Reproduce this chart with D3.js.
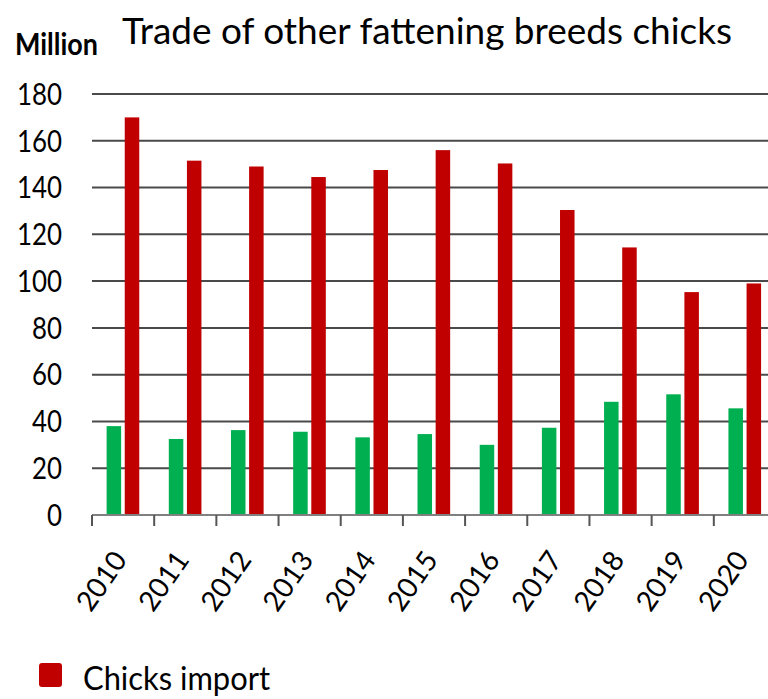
<!DOCTYPE html>
<html>
<head>
<meta charset="utf-8">
<script src="https://cdn.jsdelivr.net/npm/d3@7/dist/d3.min.js"></script>
<style>
  html, body { margin: 0; padding: 0; background: #fff; }
  svg { display: block; }
  text { font-family: Lato, "Open Sans", sans-serif; fill: #000; }
</style>
</head>
<body>
<svg id="chart" width="768" height="699"></svg>
<script>
const years = ["2010","2011","2012","2013","2014","2015","2016","2017","2018","2019","2020"];
const chicksExport = [38, 32.5, 36.3, 35.6, 33.2, 34.6, 30, 37.3, 48.4, 51.6, 45.6];
const chicksImport = [170, 151.5, 149, 144.5, 147.5, 156, 150.3, 130.4, 114.4, 95.3, 99];
const seriesNames = ["Chicks export", "Chicks import"];
const seriesColors = ["#00B050", "#C00000"];
const yTicks = [0, 20, 40, 60, 80, 100, 120, 140, 160, 180];
const titleText = "Trade of other fattening breeds chicks";
const unitText = "Million";

const svg = d3.select("#chart");
const mLeft = 92, mRight = 776, mTop = 94, mBottom = 515;

const x = d3.scaleBand().domain(years).range([mLeft, mRight]).paddingInner(0).paddingOuter(0);
const bw = x.bandwidth();
const x1 = d3.scaleBand().domain(seriesNames)
  .range([0.235 * bw, 0.76 * bw]).paddingInner(0.2).paddingOuter(0);
const y = d3.scaleLinear().domain([0, 180]).range([mBottom, mTop]);

// gridlines
svg.append("g")
  .selectAll("line")
  .data(yTicks.filter(d => d > 0))
  .join("line")
  .attr("x1", mLeft).attr("x2", 768)
  .attr("y1", d => y(d)).attr("y2", d => y(d))
  .attr("stroke", "#4a4a4a").attr("stroke-width", 2);

// y labels
svg.append("g")
  .selectAll("text")
  .data(yTicks)
  .join("text")
  .attr("x", 62).attr("y", d => y(d))
  .attr("dy", "0.36em")
  .attr("text-anchor", "end")
  .attr("textLength", d => String(d).length * 15)
  .attr("lengthAdjust", "spacingAndGlyphs")
  .style("font-size", "30px")
  .text(d => d);

// bars
const rows = years.map((yr, i) => ({ yr, vals: [chicksExport[i], chicksImport[i]] }));
const groups = svg.append("g").selectAll("g")
  .data(rows).join("g")
  .attr("transform", d => `translate(${x(d.yr)},0)`);
groups.selectAll("rect")
  .data(d => d.vals.map((v, j) => ({ s: seriesNames[j], v, c: seriesColors[j] })))
  .join("rect")
  .attr("x", d => x1(d.s))
  .attr("width", x1.bandwidth())
  .attr("y", d => y(d.v))
  .attr("height", d => y(0) - y(d.v))
  .attr("fill", d => d.c);

// x axis line
svg.append("line")
  .attr("x1", mLeft).attr("x2", mRight)
  .attr("y1", mBottom).attr("y2", mBottom)
  .attr("stroke", "#808080").attr("stroke-width", 2);
// tick marks at band boundaries
const boundaries = years.map(yr => x(yr));
svg.append("g").selectAll("line")
  .data(boundaries).join("line")
  .attr("x1", d => d).attr("x2", d => d)
  .attr("y1", mBottom).attr("y2", mBottom + 11)
  .attr("stroke", "#555").attr("stroke-width", 2);

// x labels
svg.append("g").selectAll("text")
  .data(years).join("text")
  .attr("transform", d => `translate(${x(d) + bw / 2 + 5},${mBottom + 45}) rotate(-55)`)
  .attr("text-anchor", "end")
  .style("font-size", "28px")
  .text(d => d);

// title
svg.append("text")
  .attr("x", 122).attr("y", 44)
  .attr("textLength", 610).attr("lengthAdjust", "spacingAndGlyphs")
  .style("font-size", "37px")
  .text(titleText);

svg.append("text")
  .attr("x", 15).attr("y", 55)
  .attr("textLength", 83).attr("lengthAdjust", "spacingAndGlyphs")
  .style("font-size", "30px").style("font-weight", "bold")
  .text(unitText);

// legend (only the import entry is visible)
const lg = svg.append("g").attr("transform", "translate(39,663)");
lg.append("rect").attr("x", 0).attr("y", 0).attr("width", 23).attr("height", 24)
  .attr("rx", 3).attr("fill", seriesColors[1]);
lg.append("text").attr("x", 44).attr("y", 27)
  .attr("textLength", 187).attr("lengthAdjust", "spacingAndGlyphs")
  .style("font-size", "32px")
  .text(seriesNames[1]);
</script>
</body>
</html>
